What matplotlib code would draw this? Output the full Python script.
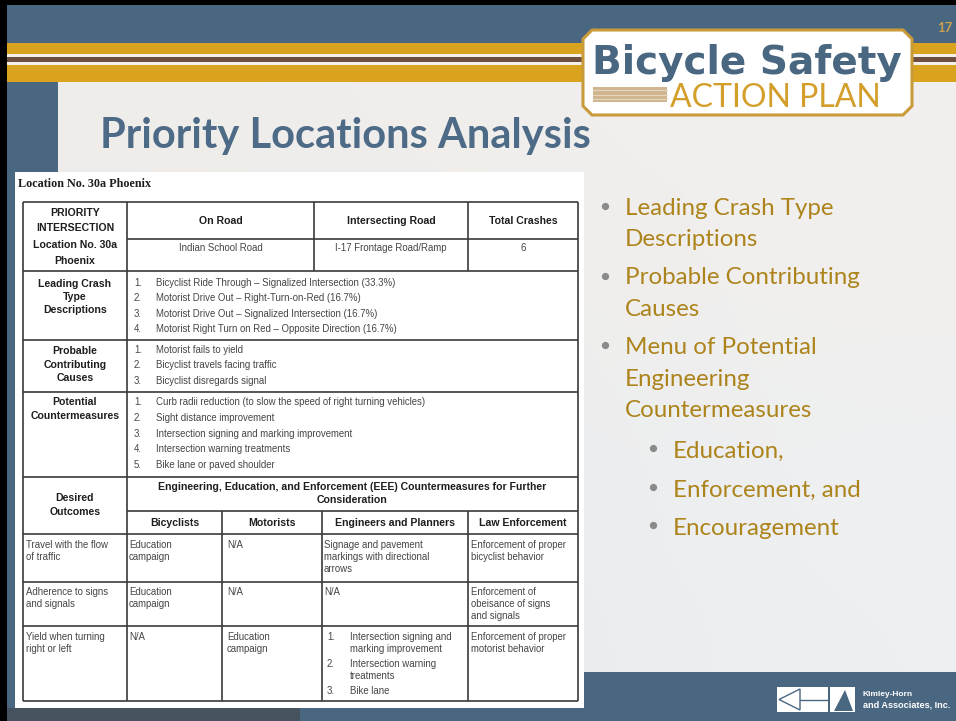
import matplotlib.pyplot as plt
from matplotlib.patches import Rectangle, Polygon
import numpy as np

# ---- slide content ----
slide_title = "Priority Locations Analysis"
slide_number = "17"
location_caption = "Location No. 30a Phoenix"

header_cols = ["On Road", "Intersecting Road", "Total Crashes"]
header_vals = ["Indian School Road", "I-17 Frontage Road/Ramp", "6"]
intersection_label = ["PRIORITY", "INTERSECTION", "Location No. 30a", "Phoenix"]

crash_types = [
    "Bicyclist Ride Through \u2013 Signalized Intersection (33.3%)",
    "Motorist Drive Out \u2013 Right-Turn-on-Red (16.7%)",
    "Motorist Drive Out \u2013 Signalized Intersection (16.7%)",
    "Motorist Right Turn on Red \u2013 Opposite Direction (16.7%)",
]
causes = [
    "Motorist fails to yield",
    "Bicyclist travels facing traffic",
    "Bicyclist disregards signal",
]
countermeasures = [
    "Curb radii reduction (to slow the speed of right turning vehicles)",
    "Sight distance improvement",
    "Intersection signing and marking improvement",
    "Intersection warning treatments",
    "Bike lane or paved shoulder",
]
eee_heading = ["Engineering, Education, and Enforcement (EEE) Countermeasures for Further",
               "Consideration"]
eee_groups = ["Bicyclists", "Motorists", "Engineers and Planners", "Law Enforcement"]
outcomes = [["Travel with the flow", "of traffic"],
            ["Adherence to signs", "and signals"],
            ["Yield when turning", "right or left"]]
bicyclist_actions = [["Education", "campaign"], ["Education", "campaign"], ["N/A"]]
motorist_actions = [["N/A"], ["N/A"], ["Education", "campaign"]]
engineer_actions = [["Signage and pavement", "markings with directional", "arrows"], ["N/A"], None]
engineer_list = [["Intersection signing and", "marking improvement"],
                 ["Intersection warning", "treatments"],
                 ["Bike lane"]]
law_actions = [["Enforcement of proper", "bicyclist behavior"],
               ["Enforcement of", "obeisance of signs", "and signals"],
               ["Enforcement of proper", "motorist behavior"]]

bullets = [["Leading Crash Type", "Descriptions"],
           ["Probable Contributing", "Causes"],
           ["Menu of Potential", "Engineering", "Countermeasures"]]
sub_bullets = ["Education,", "Enforcement, and", "Encouragement"]

# ---- colours ----
BLUE = "#4a6782"
GOLD = "#d9a31f"
BROWN = "#6e4f40"
TITLE_BLUE = "#4d6a87"
BULLET_GOLD = "#ad841c"
LINE = "#3a3a3a"
BODY = "#454545"

W, H = 956, 721
fig = plt.figure(figsize=(9.56, 7.21), dpi=100)
ax = fig.add_axes([0, 0, 1, 1])
ax.set_xlim(0, W)
ax.set_ylim(H, 0)
ax.axis("off")


def rect(x0, y0, x1, y1, color, z=1):
    ax.add_patch(Rectangle((x0, y0), x1 - x0, y1 - y0, facecolor=color,
                           edgecolor="none", zorder=z))


def hline(y, x0, x1):
    ax.plot([x0, x1], [y, y], color=LINE, lw=1.2, zorder=5, solid_capstyle="butt")


def vline(x, y0, y1):
    ax.plot([x, x], [y0, y1], color=LINE, lw=1.2, zorder=5, solid_capstyle="butt")


def body(x, y, s, **kw):
    kw.setdefault("ha", "left")
    ax.text(x, y, s, fontsize=6.9, family="Liberation Sans", color=BODY,
            va="center", zorder=6, **kw)


def head(x, y, s, size=7.6):
    ax.text(x, y, s, fontsize=size, family="Liberation Sans", fontweight="bold",
            color="#1e1e1e", ha="center", va="center", zorder=6)


def fit_width(t, width):
    # scale a text's font size so that it spans the given pixel width
    r = fig.canvas.get_renderer()
    w = t.get_window_extent(renderer=r).width
    t.set_fontsize(t.get_fontsize() * width / w)


# ---- background ----
bg = np.array([[[0.94, 0.93, 0.92], [0.95, 0.94, 0.93]],
               [[0.90, 0.91, 0.92], [0.93, 0.94, 0.95]]])
ax.imshow(bg, extent=(58, W, 672, 82), interpolation="bicubic", aspect="auto", zorder=0)
rect(0, 0, W, 45, BLUE)
rect(0, 0, 58, H, BLUE)
rect(0, 672, W, H, BLUE)
rect(0, 708, 300, H, "#46525e", z=1.5)
rect(0, 43, W, 54, GOLD, z=2)
rect(0, 54, W, 57, "#f4f0ea", z=2)
rect(0, 57, W, 62, BROWN, z=2)
rect(0, 62, W, 65, "#f4f0ea", z=2)
rect(0, 65, W, 82, GOLD, z=2)
rect(0, 0, W, 5, "black", z=3)
rect(0, 0, 7, H, "black", z=3)

# ---- logo ----
lx0, lx1, ly0, ly1, c = 583, 912, 30, 115, 9
logo = Polygon([(lx0 + c, ly0), (lx1 - c, ly0), (lx1, ly0 + c), (lx1, ly1 - c),
                (lx1 - c, ly1), (lx0 + c, ly1), (lx0, ly1 - c), (lx0, ly0 + c)],
               closed=True, facecolor="white", edgecolor="#c99a3a", lw=2.2, zorder=4)
ax.add_patch(logo)
t = ax.text(592, 74, "Bicycle Safety", fontsize=30, family="DejaVu Sans",
            fontweight="bold", color=BLUE, ha="left", va="baseline", zorder=5)
fit_width(t, 310)
rect(593, 87, 667, 102, "#cfb58f", z=5)
for yy in (90, 94.5, 99):
    ax.plot([593, 667], [yy, yy], color="#e6d6bb", lw=0.8, zorder=6)
t = ax.text(670, 107, "ACTION PLAN", fontsize=22, family="Lato",
            color="#d39e2a", ha="left", va="baseline", zorder=5)
fit_width(t, 210)
ax.text(945, 28, slide_number, fontsize=9.5, family="Lato", fontweight="bold",
        color="#c9a14e", ha="center", va="center", zorder=5)

# ---- title ----
ax.text(100, 148, slide_title, fontsize=30, family="Lato", fontweight="bold",
        color=TITLE_BLUE, ha="left", va="baseline", zorder=5)

# ---- table panel ----
rect(15, 172, 584, 708, "white", z=3)
ax.text(18, 184, location_caption, fontsize=8.7, family="Liberation Serif",
        fontweight="bold", color="#1e1e1e", ha="left", va="center", zorder=6)

L, C1, C2, C3, R = 23, 127, 314, 468, 578
S1, S2 = 222, 322
top, bottom = 202, 701

# grid
for y in (top, 271, 340, 392, 477, 534, 582, 626, bottom):
    hline(y, L, R)
hline(239, C1, R)
hline(511, C1, R)
for x in (L, C1, R):
    vline(x, top, bottom)
for x in (C2, C3):
    vline(x, top, 271)
for x in (S1, S2, C3):
    vline(x, 511, bottom)

# header block
for s, y in zip(intersection_label, (213, 228, 245, 261)):
    head((L + C1) / 2, y, s)
col_mid = [(C1 + C2) / 2, (C2 + C3) / 2, (C3 + R) / 2]
for xm, s, v in zip(col_mid, header_cols, header_vals):
    head(xm, 221, s)
    body(xm, 248, v, ha="center")


def numbered(items, y0, step):
    for i, s in enumerate(items):
        body(134, y0 + i * step, f"{i + 1}.")
        body(156, y0 + i * step, s)


for s, y in zip(["Leading Crash", "Type", "Descriptions"], (284, 297, 310)):
    head((L + C1) / 2, y, s)
numbered(crash_types, 283, 15.3)

for s, y in zip(["Probable", "Contributing", "Causes"], (351, 365, 378)):
    head((L + C1) / 2, y, s)
numbered(causes, 350, 15.5)

for s, y in zip(["Potential", "Countermeasures"], (402, 416)):
    head((L + C1) / 2, y, s)
numbered(countermeasures, 402, 15.8)

for s, y in zip(["Desired", "Outcomes"], (498, 512)):
    head((L + C1) / 2, y, s)
for s, y in zip(eee_heading, (487, 500)):
    head((C1 + R) / 2, y, s)
sub_mid = [(C1 + S1) / 2, (S1 + S2) / 2, (S2 + C3) / 2, (C3 + R) / 2]
for xm, s in zip(sub_mid, eee_groups):
    head(xm, 523, s)

row_tops = [545, 592, 637]
LS = 11.8
for r, y0 in enumerate(row_tops):
    for col_x, lines in ((26, outcomes[r]), (129, bicyclist_actions[r]),
                         (227, motorist_actions[r]), (324, engineer_actions[r]),
                         (471, law_actions[r])):
        if lines is None:
            continue
        for k, s in enumerate(lines):
            body(col_x, y0 + k * LS, s)

# numbered engineer list in the last row
y = row_tops[2]
for i, lines in enumerate(engineer_list):
    body(327, y, f"{i + 1}.")
    for s in lines:
        body(350, y, s)
        y += LS
    y += 3.5

# ---- bullets on the right ----
y = 215
for group in bullets:
    ax.plot(605, y - 9, "o", color="#8a8a8a", ms=4.2, zorder=6)
    for s in group:
        ax.text(625, y, s, fontsize=17.4, family="Lato", color=BULLET_GOLD,
                ha="left", va="baseline", zorder=6)
        y += 31.5
    y += 6.5
y = 458
for s in sub_bullets:
    ax.plot(653, y - 10, "o", color="#8a8a8a", ms=4.2, zorder=6)
    ax.text(673, y, s, fontsize=17.4, family="Lato", color=BULLET_GOLD,
            ha="left", va="baseline", zorder=6)
    y += 38.5

# ---- Kimley-Horn mark ----
rect(777, 687, 828, 712, "white", z=4)
ax.add_patch(Polygon([(779, 699.5), (800, 689), (800, 710)], closed=True,
                     facecolor="white", edgecolor=BLUE, lw=1.0, zorder=5))
ax.plot([800, 828], [699.5, 699.5], color=BLUE, lw=1.0, zorder=5)
rect(830, 687, 855, 712, "white", z=4)
ax.add_patch(Polygon([(834, 711), (845, 690), (853, 711)], closed=True,
                     facecolor=BLUE, edgecolor="none", zorder=5))
for s, yy in (("Kimley-Horn", 694), ("and Associates, Inc.", 705)):
    t = ax.text(863, yy, s, fontsize=6, family="Liberation Sans",
                fontweight="bold", color="white", ha="left", va="center", zorder=5)
    if s.startswith("and"):
        fit_width(t, 89)

fig.savefig("out.png", dpi=100)
